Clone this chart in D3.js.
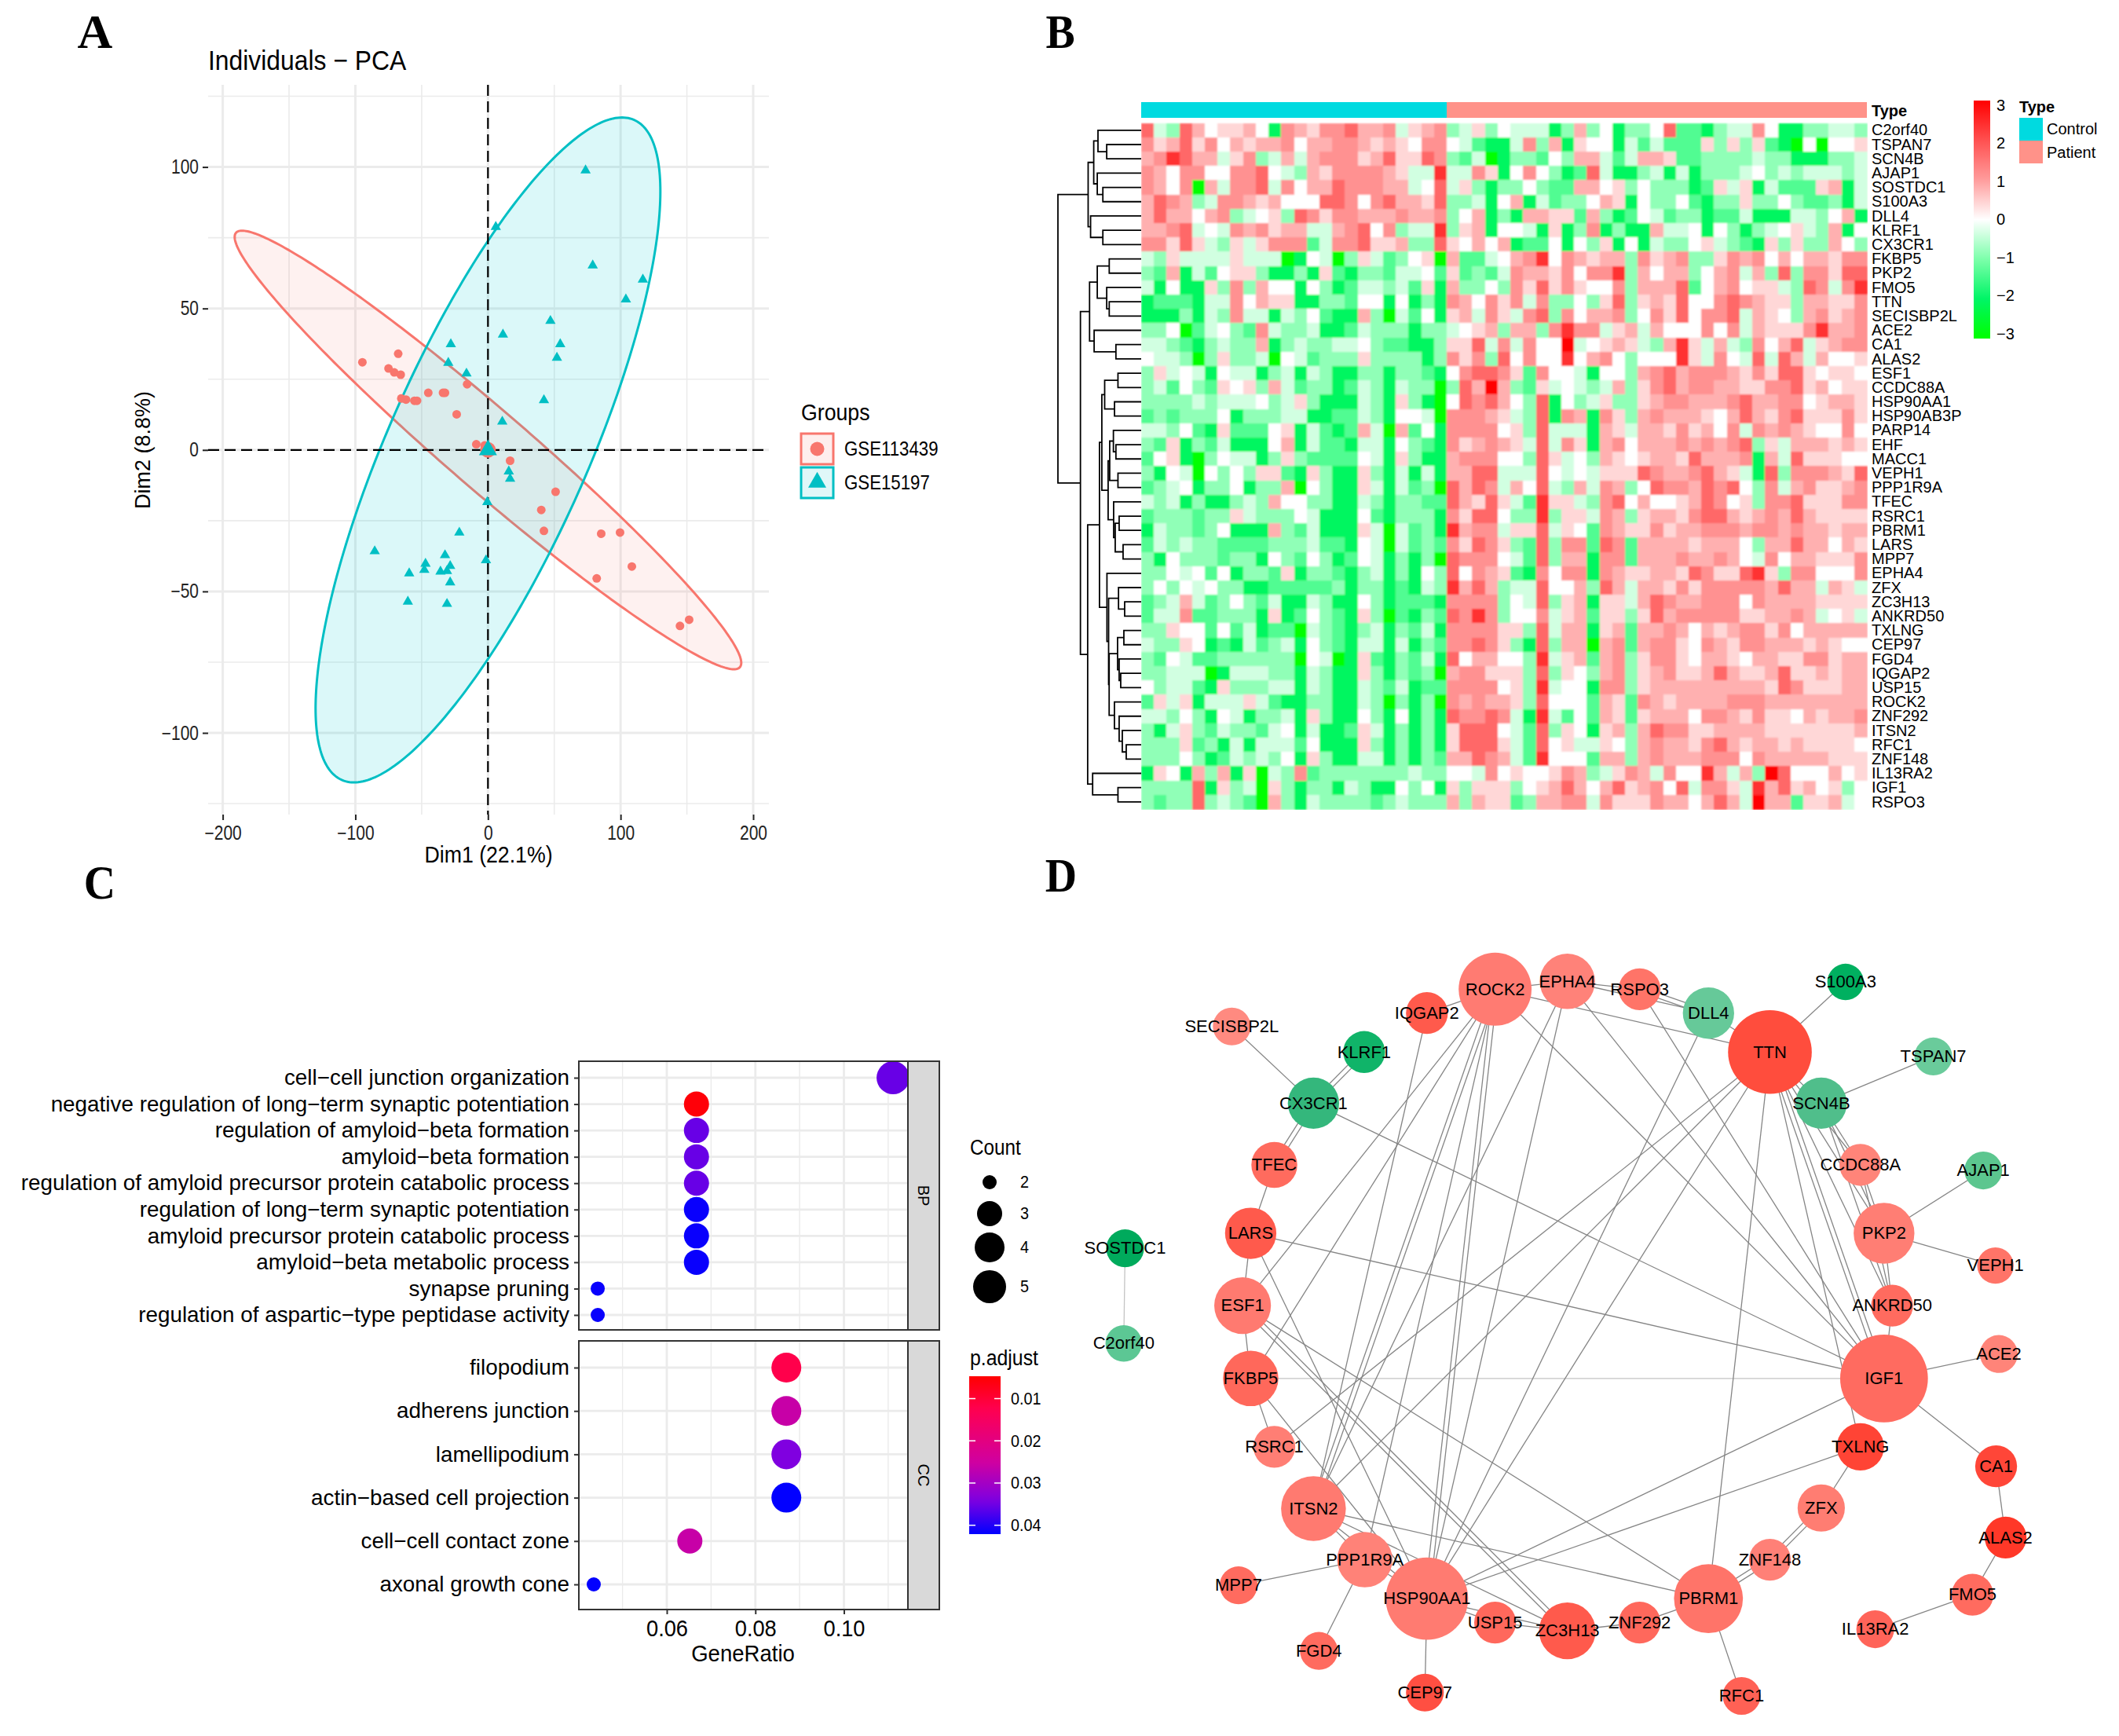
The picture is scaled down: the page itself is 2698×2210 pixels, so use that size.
<!DOCTYPE html>
<html><head><meta charset="utf-8">
<script src="https://cdn.jsdelivr.net/npm/d3@7"></script>
<style>html,body{margin:0;background:#fff}svg{display:block}text{font-family:"Liberation Sans",Arial,sans-serif;fill:#000}</style>
</head><body><svg id="c" width="2698" height="2210" xmlns="http://www.w3.org/2000/svg"></svg>
<script>
// ---------- Panel A data ----------
const pcaRedX=[-94.7,-67.7,-75,-70.7,-65.8,-65.3,-61.8,-55.5,-53.5,-45,-33.9,-32.4,-15.7,-23.6,-8.8,-2.5,16.7,51,40.2,42.2,85.4,99.6,108.5,82,144.8,151.7];
const pcaRedY=[31,34,28.8,27.4,26.6,18.2,17.8,17.4,17.4,20.2,20.2,20.2,23.2,12.6,2,1.6,-3.8,-14.8,-21.2,-28.6,-29.6,-29.2,-41.2,-45.4,-62.2,-60];
const pcaTealX=[73.6,5.9,79,116.8,104,47.1,11.3,-28,54.5,52,-29.9,-16.2,42.2,10.8,15.7,16.7,-0.5,-21.6,-85.4,-32.4,-1.5,-47.1,-28.5,-48,-59.4,-35.8,-30.9,-28.5,-60.4,-30.9];
const pcaTealY=[98.8,78.8,65.2,60.2,53.2,45.6,40.8,37.4,37.4,32.6,30.8,27,17.6,10,-7.6,-10.2,-18.4,-29.2,-35.8,-37.2,-39,-40.2,-41,-42.4,-43.6,-43,-42.8,-46.8,-53.6,-54.4];
// ellipse semi-extents and phase (x=a cos t, y=b cos(t-phi))
const redEllipse={a:191,b:77.5,phase:2.90};
const tealEllipse={a:130,b:117.5,phase:0.68};
const pcaXMajor=[-200,-100,0,100,200], pcaXMinor=[-150,-50,50,150];
const pcaYMajor=[-100,-50,0,50,100], pcaYMinor=[-125,-75,-25,25,75,125];
const pcaGroups=["GSE113439","GSE15197"];

// ---------- Panel B data ----------
const heatGenes=["C2orf40","TSPAN7","SCN4B","AJAP1","SOSTDC1","S100A3","DLL4","KLRF1","CX3CR1","FKBP5","PKP2","FMO5","TTN","SECISBP2L","ACE2","CA1","ALAS2","ESF1","CCDC88A","HSP90AA1","HSP90AB3P","PARP14","EHF","MACC1","VEPH1","PPP1R9A","TFEC","RSRC1","PBRM1","LARS","MPP7","EPHA4","ZFX","ZC3H13","ANKRD50","TXLNG","CEP97","FGD4","IQGAP2","USP15","ROCK2","ZNF292","ITSN2","RFC1","ZNF148","IL13RA2","IGF1","RSPO3"];
// each character indexes heatLevels (base 12)
const heatLevels=[-3,-2.05,-1.35,-0.85,-0.35,0,0.4,0.8,1.15,1.7,2.4,3];
const controlRows=[
"943975667518768897784678","867968576778577887676588","78a977468347478886796698","87588558895437688887644a",
"875807488948577988877459","798734887675559985897769","797757834563986887778778","77894548786774478958344a",
"886964364688824889667339","436444464440154036423560","327142566311316213324452","415116383755153124434261",
"122214485766113325515131","111314384414352117304251","335024532843341124333133","443213433713433445322113",
"544303633405423336333313","364541544134143113313321","342532656374233124314330","333343444534631114316310",
"232333513334411224315540","443521622256142127407251","326132411157142214415321","256103544136322225416311",
"315405353662163116314141","234513351337053116414230","434131134375533114313322","233323364333541115213331",
"143323511173241116404231","243433222233342215404232","315333233153253125413130","335452513326133213413153",
"353545331122222313312143","234742353241143115312221","244822333161253216302132","336552524122043213413241",
"433651214234153214414132","325422333333054016213241","334440144433143116313230","534421633344143114324122",
"264614446421133114303130","443531541334163115315131","314632433245141126413131","333623141444251116313131",
"333531243435163114413132","165173716043823333333433","333391634063133143115351","323393432073143333234333"];
const patientRows=[
"346354441373513359221344851133443","542114837165514242226363621050556","324013325377424776223333433111334","448615853129411341413334534344434",
"463133532277563533312646142226714","334157142335761533521336335322314","357131776627312542331224111443571","367155416138131174451531345643715",
"657571225153615143356432163633753","7224578a5876773867833687857577688","6232487768588a3757735784739388699","73353869686558377792578566439848a",
"875868483353693676955898766377668","674864893857783586958894765378678","456737738a8846747555858476668a778","669484855b45676437a64743857946788",
"868395855a57853555a64854949747556","589986285541553789788876869965665","397b73264543473689788776688967566","598975391534633678877789778856776",
"888764391871863787776579768966686","888856394441764776867584878765585","867876494861785777878789364777676","788855396453765677697778174966655",
"779944495454666987789764193888769","979847594374873598879895384786678","9769642a6643895755679856388966688","8699533a3664873677689976787976666",
"a78846694652876686778887887877677","869863293882982777767775377977576","988854293771882777877875485776668","958762185881876677698669a63885558",
"a79734495573974776868888879774764","888835493671664798778885877776666","98a835584672663697888886677874564","888866394771672778757678868577777",
"889863193770782788658768877767655","9577553a4672783688657765776688677","788666393653783678667976679667677","8888563a4551883677777777769866677",
"878776395552762876777788877777777","9889841a4252762677758876866576778","699954293651673798866777766666667","699964295644653787768976776766665",
"7798742a5552773787778885877777666","55485655687346874855a7473b9555756","636663567975796785948864a79675635","737662377884866687757974b77266745"];
// dendrogram: [height, left, right] ; a number is a row index
const treeA=[67.4,[60.3,[54.9,0,[43.8,1,2]],[55.8,3,[48.7,4,5]]],[64.3,6,[48.7,7,8]]];
const treeB=[65.6,[55.8,[40.6,9,10],[43.8,11,[40.6,12,13]]],[59.8,14,[32.1,15,16]]];
const treeC1=[50,[46.4,[29.5,17,18],[33.9,19,20]],[42,[40,[35.3,21,[32.1,22,23]],[29.5,24,25]],[35,26,[33,[28,27,28],[23,29,30]]]]];
const treeC2=[43.5,31,[41.4,[28.8,32,[21,33,34]],[40.7,[30,[22,35,36],[28,37,[26,38,39]]],[34,40,[28,41,[24,42,[19,43,44]]]]]]];
const treeD=[61.7,45,[29.5,46,47]];
const heatTree=[105.8,treeA,[77.2,treeB,[68,[53,treeC1,treeC2],treeD]]];
const heatTicks=[3,2,1,0,-1,-2,-3];
const heatGroups=["Control","Patient"];

// ---------- Panel C data ----------
const bpTerms=["cell-cell junction organization","negative regulation of long-term synaptic potentiation","regulation of amyloid-beta formation","amyloid-beta formation","regulation of amyloid precursor protein catabolic process","regulation of long-term synaptic potentiation","amyloid precursor protein catabolic process","amyloid-beta metabolic process","synapse pruning","regulation of aspartic-type peptidase activity"];
const bpRatio=[0.1111,0.0667,0.0667,0.0667,0.0667,0.0667,0.0667,0.0667,0.0444,0.0444];
const bpCount=[5,3,3,3,3,3,3,3,2,2];
const bpP=[0.0355,0.0055,0.0355,0.0355,0.0355,0.0415,0.0415,0.0415,0.0415,0.0415];
const ccTerms=["filopodium","adherens junction","lamellipodium","actin-based cell projection","cell-cell contact zone","axonal growth cone"];
const ccRatio=[0.087,0.087,0.087,0.087,0.0652,0.0435];
const ccCount=[4,4,4,4,3,2];
const ccP=[0.012,0.026,0.034,0.042,0.026,0.042];
const ratioMajor=[0.06,0.08,0.10], ratioMinor=[0.05,0.07,0.09,0.11];
const countLevels=[2,3,4,5], countRadii=[9,16,19,21];
const pTicks=[0.01,0.02,0.03,0.04];
const pStops=[0.0047,0.0125,0.025,0.034,0.0421], pColors=["#FF0000","#FF0050","#D000A0","#8000E0","#0000FF"];

// ---------- Panel D data ----------
const netNames=["ROCK2","EPHA4","RSPO3","DLL4","IQGAP2","TTN","S100A3","TSPAN7","SECISBP2L","KLRF1","CX3CR1","SCN4B","TFEC","CCDC88A","AJAP1","LARS","PKP2","SOSTDC1","VEPH1","ESF1","ANKRD50","C2orf40","ACE2","FKBP5","IGF1","RSRC1","TXLNG","CA1","ITSN2","ZFX","ALAS2","PPP1R9A","ZNF148","MPP7","FMO5","HSP90AA1","PBRM1","USP15","ZC3H13","ZNF292","IL13RA2","FGD4","CEP97","RFC1"];
const netX=[644,751,858,960,543,1051,1163,1293,254,450,375,1127,317,1185,1367,282,1220,96,1385,270,1232,94,1390,282,1220,317,1185,1386,375,1127,1400,451,1051,264,1351,543,960,644,751,858,1207,383,540,1009];
const netY=[225,211,225,268,268,338,212,346,292,338,430,430,541,541,551,664,664,691,722,794,794,862,881,925,925,1048,1048,1083,1159,1158,1211,1251,1251,1297,1314,1321,1321,1364,1379,1364,1376,1415,1490,1496];
const netSize=[54,41,31,38,31,62,27,28,28,31,38,38,34,31,28,38,45,28,27,42,31,27,28,41,65,31,35,31,48,35,31,41,31,28,31,61,51,31,42,31,28,28,28,28];
const netColor=["#FF7B72","#FF8279","#FF7468","#66C999","#FF5A4C","#FF4D3D","#00B060","#6ACB9B","#FF8A80","#10B469","#34B77C","#50BE8B","#FF6B5E","#FF8479","#5CC68F","#FF5A4C","#FF7E74","#00AA5C","#FF7468","#FF7A70","#FF6B5F","#5CC794","#FF8479","#FF685B","#FF6B60","#FF7E74","#FF4435","#FF4638","#FF7A70","#FF7D72","#FF3828","#FF8278","#FF8077","#FF6B5F","#FF6B5F","#FF7B71","#FF7469","#FF685C","#FF5A4C","#FF685C","#FF6459","#FF6B5F","#FF4F42","#FF6155"];
const netEdges="SECISBP2L-CX3CR1 KLRF1-CX3CR1 CX3CR1-TFEC TFEC-LARS LARS-ESF1 ESF1-FKBP5 FKBP5-RSRC1 CX3CR1-IGF1 LARS-IGF1 FKBP5-IGF1 LARS-HSP90AA1 ESF1-ZC3H13 ESF1-PBRM1 FKBP5-HSP90AA1 FKBP5-ROCK2 ESF1-ROCK2 ROCK2-ITSN2 ROCK2-HSP90AA1 ROCK2-PPP1R9A EPHA4-HSP90AA1 EPHA4-ITSN2 IQGAP2-ITSN2 IQGAP2-ROCK2 ROCK2-TTN DLL4-HSP90AA1 DLL4-RSPO3 DLL4-EPHA4 RSPO3-EPHA4 ROCK2-EPHA4 DLL4-TTN TTN-S100A3 TTN-SCN4B SCN4B-TSPAN7 SCN4B-CCDC88A SCN4B-PKP2 SCN4B-ANKRD50 TTN-IGF1 TTN-ANKRD50 TTN-PKP2 TTN-CCDC88A TTN-HSP90AA1 TTN-ITSN2 TTN-RSRC1 TTN-PBRM1 TTN-TXLNG ROCK2-IGF1 EPHA4-IGF1 RSPO3-IGF1 CCDC88A-PKP2 CCDC88A-ANKRD50 PKP2-AJAP1 PKP2-VEPH1 PKP2-ANKRD50 ANKRD50-IGF1 IGF1-ACE2 IGF1-CA1 IGF1-HSP90AA1 TXLNG-ZFX TXLNG-HSP90AA1 ZFX-ZNF148 ZNF148-PBRM1 PBRM1-ZNF292 ZNF292-ZC3H13 ZC3H13-USP15 USP15-HSP90AA1 PBRM1-RFC1 PBRM1-ITSN2 HSP90AA1-ZC3H13 HSP90AA1-CEP97 PPP1R9A-MPP7 PPP1R9A-FGD4 PPP1R9A-ITSN2 PPP1R9A-HSP90AA1 ITSN2-HSP90AA1 ITSN2-ZC3H13 FMO5-IL13RA2 FMO5-ALAS2 ALAS2-CA1 SOSTDC1-C2orf40".split(" ");
const netDoubleEdges="KLRF1-CX3CR1 CX3CR1-TFEC ROCK2-ITSN2 ROCK2-HSP90AA1 DLL4-RSPO3 TTN-IGF1 ZFX-ZNF148 ZNF148-PBRM1 ESF1-ZC3H13".split(" ");
const netFaintEdges=["FKBP5-IGF1","SOSTDC1-C2orf40"];

// ---------- helpers ----------
const svg=d3.select("#c");
svg.append("rect").attr("width",2698).attr("height",2210).attr("fill","#fff");
const TXT="#000";
function label(p,x,y,s,o={}){
  const t=p.append("text").attr("transform",`translate(${x},${y}) rotate(${o.rotate||0}) scale(${o.sx||1},1)`)
   .attr("dy",o.dy||".33em").attr("text-anchor",o.anchor||"start").attr("font-size",o.size||22)
   .attr("font-weight",o.weight||"normal").style("fill",o.fill||TXT).text(s);
  if(o.family) t.style("font-family",o.family);
  return t;
}
function letter(s,x,y){label(svg,x,y,s,{size:62,weight:"bold",family:"'Liberation Serif',serif",anchor:"middle",sx:s==="A"?1:.9});}
letter("A",121,41);letter("B",1350,41);letter("C",127,1124);letter("D",1351,1115);
function squeezeTicks(sel,size,sx){sel.selectAll("text").each(function(){const t=d3.select(this);
  t.attr("x",(+t.attr("x")||0)/sx).attr("transform",`scale(${sx},1)`).attr("font-size",size).style("fill","#222");});}

// ---------- Panel A ----------
(function(){
 const g=svg.append("g");
 const x=d3.scaleLinear().domain([-200,200]).range([283.6,959]);
 const y=d3.scaleLinear().domain([-100,100]).range([933,212.6]);
 const L=265,R=979,T=108,B=1037;
 const grid=g.append("g").attr("stroke","#ebebeb").attr("fill","none");
 pcaXMinor.forEach(v=>grid.append("line").attr("x1",x(v)).attr("x2",x(v)).attr("y1",T).attr("y2",B).attr("stroke-width",1.6));
 pcaYMinor.forEach(v=>grid.append("line").attr("y1",y(v)).attr("y2",y(v)).attr("x1",L).attr("x2",R).attr("stroke-width",1.6));
 pcaXMajor.forEach(v=>grid.append("line").attr("x1",x(v)).attr("x2",x(v)).attr("y1",T).attr("y2",B).attr("stroke-width",3));
 pcaYMajor.forEach(v=>grid.append("line").attr("y1",y(v)).attr("y2",y(v)).attr("x1",L).attr("x2",R).attr("stroke-width",3));
 const ell=(e)=>d3.line().x(t=>x(e.a*Math.cos(t))).y(t=>y(e.b*Math.cos(t-e.phase))).curve(d3.curveLinearClosed)(d3.range(0,2*Math.PI,0.02));
 g.append("path").attr("d",ell(redEllipse)).attr("fill","#F8766D").attr("fill-opacity",.1).attr("stroke","#F8766D").attr("stroke-width",3);
 g.append("path").attr("d",ell(tealEllipse)).attr("fill","#00D0D6").attr("fill-opacity",.14).attr("stroke","#00BFC4").attr("stroke-width",3);
 g.append("line").attr("x1",L).attr("x2",R).attr("y1",y(0)).attr("y2",y(0)).attr("stroke","#000").attr("stroke-width",2.2).attr("stroke-dasharray","14 7");
 g.append("line").attr("y1",T).attr("y2",B).attr("x1",x(0)).attr("x2",x(0)).attr("stroke","#000").attr("stroke-width",2.2).attr("stroke-dasharray","14 7");
 g.selectAll(".r").data(pcaRedX).enter().append("circle").attr("cx",d=>x(d)).attr("cy",(d,i)=>y(pcaRedY[i])).attr("r",5.5).attr("fill","#F8766D");
 const tri=d3.symbol().type(d3.symbolTriangle);
 g.selectAll(".t").data(pcaTealX).enter().append("path").attr("d",tri.size(75)()).attr("transform",(d,i)=>`translate(${x(d)},${y(pcaTealY[i])})`).attr("fill","#00BFC4");
 g.append("circle").attr("cx",x(0)).attr("cy",y(0)).attr("r",10).attr("fill","#F8766D");
 g.append("path").attr("d",tri.size(230)()).attr("transform",`translate(${x(0)},${y(0)})`).attr("fill","#00BFC4");
 const ax=g.append("g").attr("transform",`translate(0,${B})`).call(d3.axisBottom(x).tickValues(pcaXMajor).tickSize(7).tickPadding(7));
 ax.select(".domain").remove(); ax.selectAll("line").attr("stroke","#222").attr("stroke-width",2); squeezeTicks(ax,25,.84);
 const ay=g.append("g").attr("transform",`translate(${L},0)`).call(d3.axisLeft(y).tickValues(pcaYMajor).tickSize(7).tickPadding(5));
 ay.select(".domain").remove(); ay.selectAll("line").attr("stroke","#222").attr("stroke-width",2); squeezeTicks(ay,25,.84);
 label(svg,265,77,"Individuals \u2212 PCA",{size:35,sx:.91});
 label(svg,622,1088,"Dim1 (22.1%)",{size:30,sx:.89,anchor:"middle"});
 label(svg,182,573,"Dim2 (8.8%)",{size:27,rotate:-90,anchor:"middle"});
 label(svg,1020,525,"Groups",{size:30,sx:.89});
 const keyY=[552,595], keyC=["#F8766D","#00BFC4"];
 pcaGroups.forEach((n,i)=>{
  g.append("rect").attr("x",1020).attr("y",keyY[i]).attr("width",41).attr("height",39).attr("fill",keyC[i]).attr("fill-opacity",.12).attr("stroke",keyC[i]).attr("stroke-width",3);
  if(i==0) g.append("circle").attr("cx",1040.5).attr("cy",keyY[i]+19.5).attr("r",9).attr("fill",keyC[i]);
  else g.append("path").attr("d",tri.size(230)()).attr("transform",`translate(1040.5,${keyY[i]+19})`).attr("fill",keyC[i]);
  label(svg,1075,keyY[i]+19.5,n,{size:25,sx:.89});
 });
})();

// ---------- Panel B ----------
(function(){
 const g=svg.append("g");
 const nC=controlRows[0].length,nP=patientRows[0].length;
 const cols=d3.range(nC+nP);
 const xs=d3.scaleBand().domain(cols).range([1453,2377]);
 const ys=d3.scaleBand().domain(d3.range(heatGenes.length)).range([156.7,1030]);
 const color=d3.scaleLinear().domain([-3,-2,-1,0,1,2,3]).range(["#00FF00","#00F566","#7CFFAA","#FFFFFF","#FF9C9C","#FF5050","#FF0000"]);
 const defs=svg.append("defs");
 defs.append("filter").attr("id","soft").attr("x",0).attr("y",0).attr("width",1).attr("height",1).append("feGaussianBlur").attr("stdDeviation",.8).attr("edgeMode","duplicate");
 const cells=g.append("g").attr("shape-rendering","crispEdges").attr("filter","url(#soft)");
 heatGenes.forEach((gene,r)=>{
  const row=controlRows[r]+patientRows[r];
  cells.selectAll(null).data(row.split("")).enter().append("rect")
   .attr("x",(d,i)=>xs(i)).attr("y",ys(r)).attr("width",xs.bandwidth()+.6).attr("height",ys.bandwidth()+.6)
   .attr("fill",d=>color(heatLevels[parseInt(d,12)]));
  label(g,2383,ys(r)+ys.bandwidth()/2,gene,{size:20});
 });
 g.append("rect").attr("x",xs(0)).attr("y",130).attr("width",xs.bandwidth()*nC).attr("height",20).attr("fill","#00DAE0");
 g.append("rect").attr("x",xs(nC)).attr("y",130).attr("width",xs.bandwidth()*nP).attr("height",20).attr("fill","#FF9289");
 label(g,2383,141,"Type",{size:20,weight:"bold"});
 // dendrogram
 const dx=d3.scaleLinear().domain([0,105.8]).range([1453,1347]);
 const seg=g.append("g").attr("stroke","#000").attr("stroke-width",1.8).attr("fill","none");
 function draw(n){
  if(typeof n==="number") return {x:dx(0),y:ys(n)+ys.bandwidth()/2};
  const a=draw(n[1]),b=draw(n[2]),px=dx(n[0]);
  seg.append("path").attr("d",`M${a.x},${a.y}H${px}V${b.y}H${b.x}`);
  return {x:px,y:(a.y+b.y)/2};
 }
 draw(heatTree);
 // colour bar
 const grad=defs.append("linearGradient").attr("id","hb").attr("x1",0).attr("x2",0).attr("y1",0).attr("y2",1);
 d3.range(0,61).forEach(i=>grad.append("stop").attr("offset",i/60).attr("stop-color",color(3-i/10)));
 g.append("rect").attr("x",2513).attr("y",128).attr("width",21).attr("height",303).attr("fill","url(#hb)");
 const by=d3.scaleLinear().domain([3,-3]).range([134,425]);
 heatTicks.forEach(v=>label(g,2542,by(v),d3.format("")(v),{size:20}));
 label(g,2571,136,"Type",{size:20,weight:"bold"});
 const ly=[150,179],lc=["#00DAE0","#FF9289"],ty=[164,194];
 heatGroups.forEach((n,i)=>{
  g.append("rect").attr("x",2571).attr("y",ly[i]).attr("width",30).attr("height",29).attr("fill",lc[i]);
  label(g,2606,ty[i],n,{size:20});
 });
})();

// ---------- Panel C ----------
(function(){
 const g=svg.append("g");
 const x=d3.scaleLinear().domain([0.06,0.10]).range([849,1074.5]);
 const L=737,R=1156,S=1196;
 const pAdj=d3.scaleLinear().domain(pStops).range(pColors);
 const rs=d3.scaleLinear().domain(countLevels).range(countRadii);
 function panel(top,bot,terms,ratio,count,p,rowY,strip){
  const yy=d3.scalePoint().domain(terms).range(rowY);
  const gr=g.append("g").attr("stroke","#ebebeb");
  ratioMinor.forEach(v=>gr.append("line").attr("x1",x(v)).attr("x2",x(v)).attr("y1",top).attr("y2",bot).attr("stroke-width",1.4));
  ratioMajor.forEach(v=>gr.append("line").attr("x1",x(v)).attr("x2",x(v)).attr("y1",top).attr("y2",bot).attr("stroke-width",2.8));
  terms.forEach(t=>gr.append("line").attr("x1",L).attr("x2",R).attr("y1",yy(t)).attr("y2",yy(t)).attr("stroke-width",2.8));
  terms.forEach((t,i)=>g.append("circle").attr("cx",x(ratio[i])).attr("cy",yy(t)).attr("r",rs(count[i])).attr("fill",pAdj(p[i])));
  g.append("rect").attr("x",R).attr("y",top).attr("width",S-R).attr("height",bot-top).attr("fill","#D9D9D9").attr("stroke","#333").attr("stroke-width",2);
  g.append("rect").attr("x",L).attr("y",top).attr("width",R-L).attr("height",bot-top).attr("fill","none").attr("stroke","#333").attr("stroke-width",2);
  label(g,(R+S)/2,(top+bot)/2,strip,{size:20,rotate:90,anchor:"middle"});
  const ay=g.append("g").attr("transform",`translate(${L},0)`).call(d3.axisLeft(yy).tickSize(6).tickFormat(""));
  ay.select(".domain").remove(); ay.selectAll("line").attr("stroke","#333").attr("stroke-width",2);
  terms.forEach(t=>label(g,725,yy(t),t.replace(/-/g,"\u2212"),{size:28,sx:.995,anchor:"end"}));
 }
 panel(1351,1693,bpTerms,bpRatio,bpCount,bpP,[1372,1674],"BP");
 panel(1707,2049,ccTerms,ccRatio,ccCount,ccP,[1741,2017],"CC");
 const ax=g.append("g").attr("transform","translate(0,2049)").call(d3.axisBottom(x).tickValues(ratioMajor).tickFormat(d3.format(".2f")).tickSize(6).tickPadding(7));
 ax.select(".domain").remove(); ax.selectAll("line").attr("stroke","#333").attr("stroke-width",2); squeezeTicks(ax,29,.94);
 ax.selectAll("text").style("fill","#000");
 label(g,946,2105,"GeneRatio",{size:29,sx:.95,anchor:"middle"});
 label(g,1235,1461,"Count",{size:27,sx:.9});
 const cy=[1505,1545,1588,1638];
 countLevels.forEach((c,i)=>{g.append("circle").attr("cx",1260).attr("cy",cy[i]).attr("r",rs(c)).attr("fill","#000");label(g,1299,cy[i],c,{size:22,sx:.9});});
 label(g,1235,1729,"p.adjust",{size:27,sx:.92});
 const grad=svg.append("defs").append("linearGradient").attr("id","pb").attr("x1",0).attr("x2",0).attr("y1",0).attr("y2",1);
 d3.range(0,21).forEach(i=>grad.append("stop").attr("offset",i/20).attr("stop-color",pAdj(0.0047+(0.0421-0.0047)*i/20)));
 const by=d3.scaleLinear().domain([0.0047,0.0421]).range([1752,1953]);
 g.append("rect").attr("x",1234).attr("y",1752).attr("width",40).attr("height",201).attr("fill","url(#pb)");
 pTicks.forEach(v=>{
  g.append("line").attr("x1",1234).attr("x2",1242).attr("y1",by(v)).attr("y2",by(v)).attr("stroke","#fff").attr("stroke-width",1.5);
  g.append("line").attr("x1",1266).attr("x2",1274).attr("y1",by(v)).attr("y2",by(v)).attr("stroke","#fff").attr("stroke-width",1.5);
  label(g,1287,by(v),d3.format(".2f")(v),{size:22,sx:.9});
 });
})();

// ---------- Panel D ----------
(function(){
 const g=svg.append("g");
 const X=d3.scaleLinear().domain([0,1568]).range([1350,2698]);
 const Y=d3.scaleLinear().domain([0,1568]).range([1100,2210]);
 const R=d3.scaleLinear().domain([0,1568]).range([0,1348]);
 const idx=new Map(netNames.map((n,i)=>[n,i]));
 const eg=g.append("g").attr("stroke-width",1.3).attr("fill","none");
 netEdges.forEach(e=>{
  const [a,b]=e.split("-").map(n=>idx.get(n));
  const x1=X(netX[a]),y1=Y(netY[a]),x2=X(netX[b]),y2=Y(netY[b]);
  const len=Math.hypot(x2-x1,y2-y1),nx=-(y2-y1)/len,ny=(x2-x1)/len;
  const offs=netDoubleEdges.includes(e)?[-3,3]:[0];
  const col=netFaintEdges.includes(e)?"#c4c4c4":"#858585";
  offs.forEach(o=>eg.append("line").attr("stroke",col).attr("x1",x1+nx*o).attr("y1",y1+ny*o).attr("x2",x2+nx*o).attr("y2",y2+ny*o));
 });
 netNames.forEach((n,i)=>g.append("circle").attr("cx",X(netX[i])).attr("cy",Y(netY[i])).attr("r",R(netSize[i])).attr("fill",netColor[i]));
 netNames.forEach((n,i)=>label(g,X(netX[i]),Y(netY[i]),n,{size:22,anchor:"middle"}));
})();
</script></body></html>
